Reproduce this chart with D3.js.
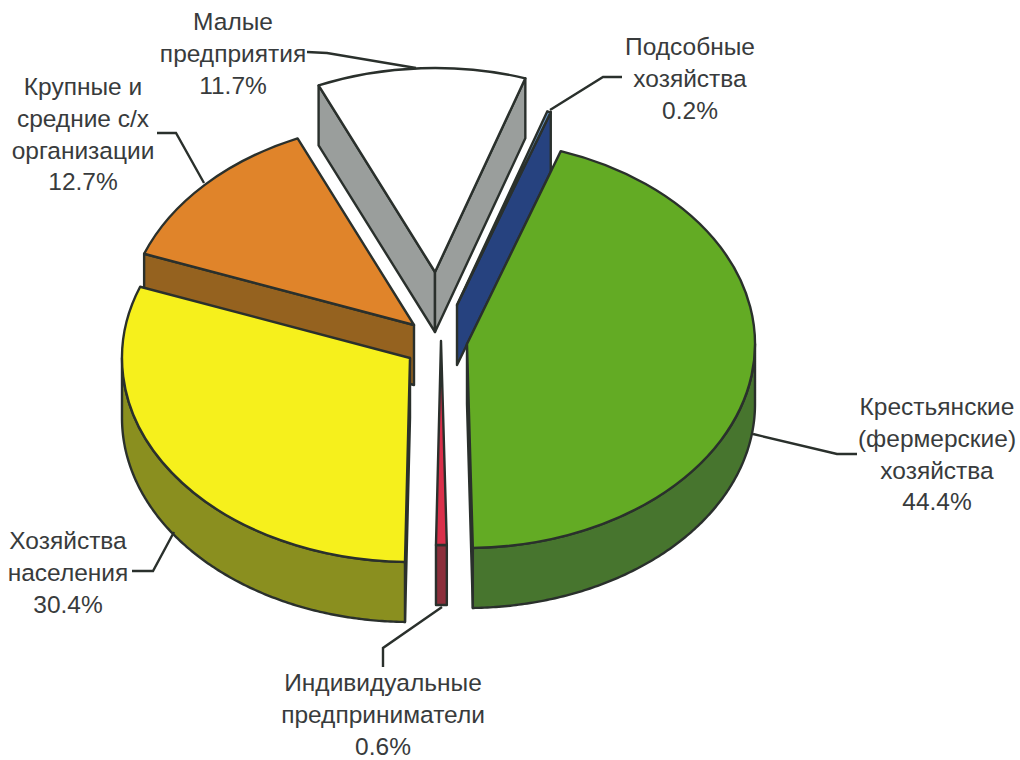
<!DOCTYPE html>
<html lang="ru">
<head>
<meta charset="utf-8">
<script src="https://cdnjs.cloudflare.com/ajax/libs/d3/7.8.5/d3.min.js"></script>
<style>
  html, body { margin: 0; background: #fff; }
  svg { display: block; }
  text { font-family: "Liberation Sans", Arial, sans-serif; font-size: 24.5px; fill: #383b3c; text-anchor: middle; }
</style>
</head>
<body>
<svg id="chart" width="1020" height="760"></svg>
<script>
// Data, in drawing order round the pie (clockwise from the green slice)
const names = [
    "Крестьянские (фермерские) хозяйства",
    "Индивидуальные предприниматели",
    "Хозяйства населения",
    "Крупные и средние с/х организации",
    "Малые предприятия",
    "Подсобные хозяйства"
];
const shares = [44.4, 0.6, 30.4, 12.7, 11.7, 0.2];
const labelLines = [
    ["Крестьянские", "(фермерские)", "хозяйства", "44.4%"],
    ["Индивидуальные", "предприниматели", "0.6%"],
    ["Хозяйства", "населения", "30.4%"],
    ["Крупные и", "средние с/х", "организации", "12.7%"],
    ["Малые", "предприятия", "11.7%"],
    ["Подсобные", "хозяйства", "0.2%"]
];

// Layout and styles
const rx = 288, ry = 204, depth = 60;
const firstAngle = 19 * Math.PI / 180;
const centers = [[467, 344], [441, 341], [410, 358], [414, 325], [435, 272], [457, 305]];
const topColors = ["#63ab24", "#d9304a", "#f6f01c", "#e0842a", "#ffffff", "#6a9ad0"];
const sideColors = ["#47752e", "#8c2f3b", "#8a8f1f", "#95621f", "#9a9e9c", "#26427f"];
const drawOrder = [4, 3, 5, 2, 0, 1]; // back to front
const outline = "#2a302c";
const strokeW = 2.4;

const labelPos = [[937, 415], [383, 691], [68, 549], [83, 95], [233, 30], [690, 55]];
const leaders = [
    [[753, 434], [837, 454], [857, 454]],
    [[442, 607], [383, 648], [383, 667]],
    [[174, 532], [153, 571], [132, 571]],
    [[204, 183], [176, 133], [157, 133]],
    [[416, 68], [327, 53], [307, 52]],
    [[550, 110], [603, 77], [622, 77]]
];

const svg = d3.select("#chart");

const slices = d3.pie()
    .sort(null)
    .startAngle(firstAngle)
    .endAngle(firstAngle + 2 * Math.PI)(shares);

const topArc = d3.arc().innerRadius(0).outerRadius(rx);
const line = d3.line();

// Point on a slice's top ellipse
function rimPoint(i, a) {
    const [cx, cy] = centers[i];
    return [cx + rx * Math.sin(a), cy - ry * Math.cos(a)];
}

// Side band between two radial edges of the slice
function wallPath(i, a) {
    const [cx, cy] = centers[i];
    const [ex, ey] = rimPoint(i, a);
    return line([[cx, cy], [ex, ey], [ex, ey + depth], [cx, cy + depth]]) + "Z";
}

drawOrder.forEach(i => {
    const d = slices[i];
    const g = svg.append("g").attr("class", "slice").attr("data-name", names[i]);

    // Only walls turned towards the viewer
    if (Math.sin(d.startAngle) < 0) {
        g.append("path").attr("d", wallPath(i, d.startAngle))
            .attr("fill", sideColors[i]).attr("stroke", outline).attr("stroke-width", strokeW)
            .attr("stroke-linejoin", "round");
    }
    if (Math.sin(d.endAngle) > 0) {
        g.append("path").attr("d", wallPath(i, d.endAngle))
            .attr("fill", sideColors[i]).attr("stroke", outline).attr("stroke-width", strokeW)
            .attr("stroke-linejoin", "round");
    }

    // Outer rim, front half of the ellipse only
    const from = Math.max(d.startAngle, Math.PI / 2);
    const to = Math.min(d.endAngle, 3 * Math.PI / 2);
    if (to > from) {
        const steps = d3.range(from, to, 0.01).concat([to]);
        const rim = d3.area()
            .x(a => rimPoint(i, a)[0])
            .y0(a => rimPoint(i, a)[1])
            .y1(a => rimPoint(i, a)[1] + depth);
        g.append("path").attr("d", rim(steps))
            .attr("fill", sideColors[i]).attr("stroke", outline).attr("stroke-width", strokeW)
            .attr("stroke-linejoin", "round");
    }

    // Top face: a circular arc flattened into the ellipse
    g.append("path")
        .attr("transform", `translate(${centers[i][0]},${centers[i][1]}) scale(1,${ry / rx})`)
        .attr("d", topArc(d))
        .attr("fill", topColors[i])
        .attr("stroke", outline)
        .attr("stroke-width", strokeW)
        .attr("stroke-linejoin", "round")
        .attr("vector-effect", "non-scaling-stroke");
});

// Leader lines
svg.append("g").selectAll("path")
    .data(leaders)
    .join("path")
    .attr("d", d => line(d))
    .attr("fill", "none")
    .attr("stroke", outline)
    .attr("stroke-width", strokeW);

// Labels
labelLines.forEach((lines, i) => {
    const t = svg.append("text").attr("transform", `translate(${labelPos[i][0]},${labelPos[i][1]})`);
    t.selectAll("tspan")
        .data(lines)
        .join("tspan")
        .attr("x", 0)
        .attr("y", (d, k) => k * 31.8)
        .text(d => d);
});
</script>
</body>
</html>
